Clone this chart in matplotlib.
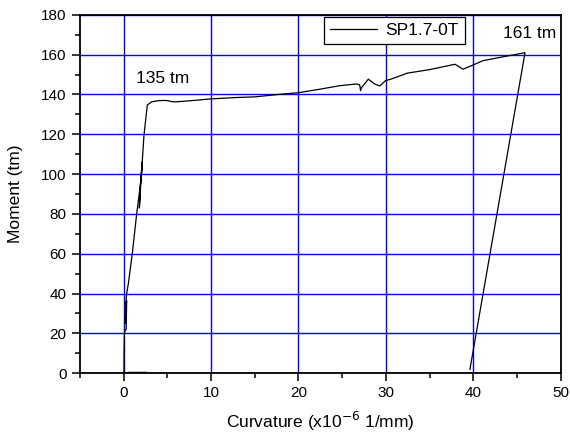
import matplotlib
matplotlib.use("Agg")
import matplotlib.pyplot as plt
from matplotlib.ticker import MultipleLocator

plt.rcParams['font.family'] = ['Liberation Sans', 'DejaVu Sans']

# moment-curvature record, specimen SP1.7-0T
curvature = [2.65, 0.6, 0.05, 0.06, 0.1, 0.17, 0.3, 0.36, 0.25, 0.2, 0.3,
             0.36, 0.55, 1.0, 1.5, 1.85, 2.08, 2.12, 1.81, 1.95, 2.15,
             2.34, 2.6, 2.72, 3.2, 4.0, 4.6, 5.1, 5.5, 6.0, 8.0, 10.0,
             13.0, 15.0, 17.9, 20.0, 22.5, 24.7, 26.65, 27.0, 27.1, 27.2,
             27.4, 27.98, 28.7, 29.3, 29.97, 30.5, 32.2, 32.4, 35.0, 37.9,
             38.8, 40.0, 41.1, 43.0, 45.9, 39.6]
moment = [0.4, 0.4, 0.0, 10.0, 20.0, 21.5, 22.0, 36.5, 35.0, 25.0, 37.0,
          40.0, 45.0, 60.0, 80.0, 92.0, 100.4, 106.0, 83.0, 96.0, 107.0,
          119.7, 130.0, 134.7, 136.3, 136.9, 137.0, 136.9, 136.4,
          136.3, 137.0, 137.8, 138.5, 138.8, 140.1, 140.9, 142.7, 144.4,
          145.3, 144.8, 141.9, 143.5, 144.4, 147.7, 145.3, 144.3, 147.0,
          147.6, 150.3, 150.7, 152.5, 155.2, 152.7, 154.9, 157.0, 158.6,
          161.0, 1.9]

notes = ["135 tm", "161 tm"]
note_pos = [(4.46, 148.0), (46.4, 170.5)]

fig = plt.figure(figsize=(5.7, 4.37), dpi=100)
ax = fig.add_axes([0.140, 0.146, 0.844, 0.820])

ax.plot(curvature, moment, color='black', lw=0.9, label='SP1.7-0T')

ax.set_xlim(-5, 50)
ax.set_ylim(0, 180)
ax.xaxis.set_major_locator(MultipleLocator(10))
ax.xaxis.set_minor_locator(MultipleLocator(5))
ax.yaxis.set_major_locator(MultipleLocator(20))
ax.yaxis.set_minor_locator(MultipleLocator(10))
ax.grid(True, which='major', color='#0000ff', lw=1.0)
ax.set_axisbelow(True)

ax.tick_params(which='major', direction='out', length=6, width=1.1,
               labelsize=11, top=False, right=False)
ax.tick_params(which='minor', direction='out', length=3.5, width=1.1,
               top=False, right=False)
for s in ax.spines.values():
    s.set_linewidth(1.3)

ax.set_xlabel('Curvature (x10$^{-6}$ 1/mm)', fontsize=12.5, labelpad=7)
ax.set_ylabel('Moment (tm)', fontsize=12.5, labelpad=13)

for txt, (x, y) in zip(notes, note_pos):
    ax.text(x, y, txt, fontsize=12.5, ha='center', va='center')

leg = ax.legend(loc='upper left', bbox_to_anchor=(0.507, 0.994),
                fontsize=12.5, frameon=True, fancybox=False,
                edgecolor='black', framealpha=1, handlelength=2.7,
                borderpad=0.35, borderaxespad=0, handletextpad=0.5)
leg.get_frame().set_linewidth(0.9)

fig.savefig('out.png', dpi=100)
